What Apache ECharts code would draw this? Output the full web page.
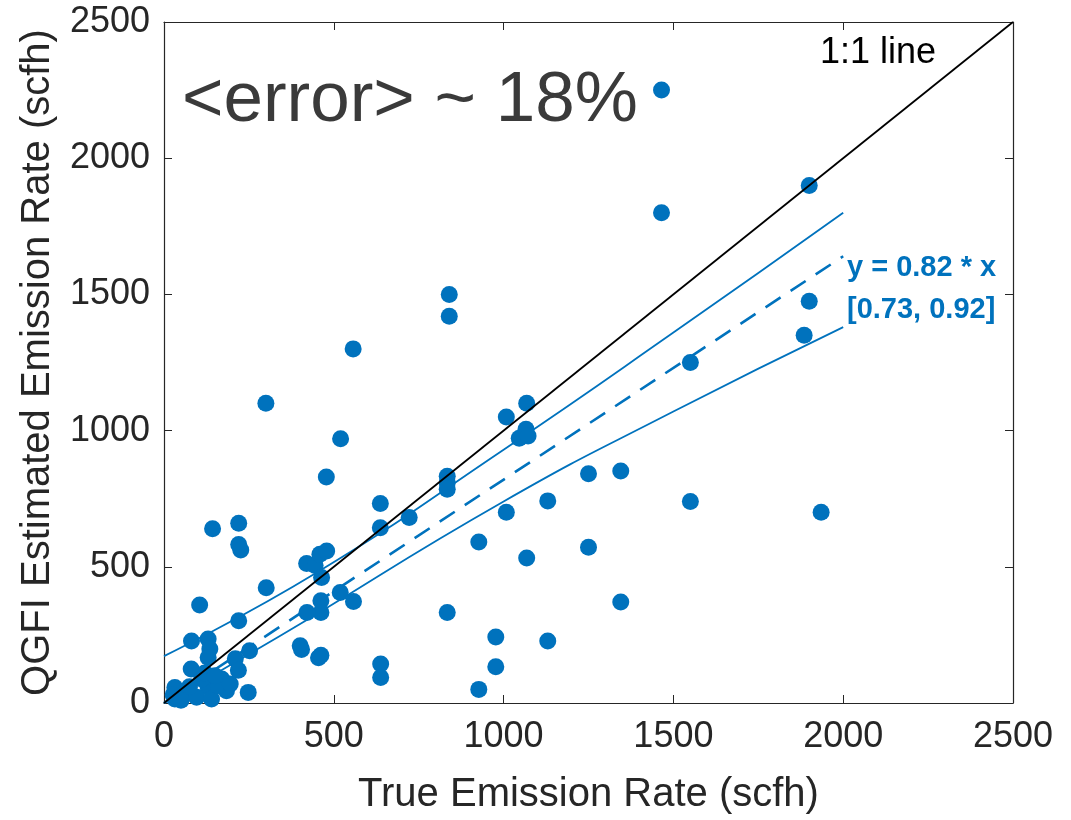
<!DOCTYPE html>
<html>
<head>
<meta charset="utf-8">
<script src="https://cdn.jsdelivr.net/npm/echarts@6/dist/echarts.min.js"></script>
<style>
html,body{margin:0;padding:0;background:#fff;}
#chart{width:1071px;height:820px;}
</style>
</head>
<body>
<div id="chart"></div>
<script>
// ---- data ----
const trueRate = [1465,1465,1900,1900,1885,1550,1550,1935,840,840,557,300,520,478,1008,1068,1066,1046,1072,834,834,834,637,637,722,1008,1130,1250,1345,927,1068,1250,1345,1130,977,977,927,834,638,638,420,445,459,479,464,519,558,462,462,421,401,405,455,462,143,220,220,226,301,105,220,81,130,135,130,252,210,219,80,170,184,248,130,111,32,32,62,96,140,160,27,75,120,150,195,50];
const estRate  = [2250,1800,1900,1475,1350,1250,740,700,1500,1420,1300,1100,970,830,1050,1100,1005,972,980,832,808,785,732,643,681,700,742,842,852,591,532,572,371,228,242,133,50,332,143,94,512,505,546,558,461,406,373,375,332,332,210,196,166,175,640,660,582,562,423,360,302,228,235,198,167,192,162,120,125,88,45,39,57,88,57,15,33,21,15,63,30,60,110,100,70,10];
const oneToOneLine = [[0,0],[2500,2500]];
const fitLine = [[0,0],[2000,1640]];
const upperBand = [[0,172],[450,479],[1000,930],[1500,1360],[2000,1800]];
const lowerBand = [[0,0],[340,245],[1000,740],[1500,1070],[2000,1380]];
const xTicks = [0,500,1000,1500,2000,2500];
const yTicks = [0,500,1000,1500,2000,2500];
const xTitle = 'True Emission Rate (scfh)';
const yTitle = 'QGFI Estimated Emission Rate (scfh)';
const errorText = '<error> ~ 18%';
const lineText = '1:1 line';
const fitText1 = 'y = 0.82 * x';
const fitText2 = '[0.73, 0.92]';

const points = trueRate.map((x,i)=>[x, estRate[i]]);
const FONT = '"Liberation Sans", Arial, sans-serif';
const AX = '#262626';
const BLUE = '#0072BD';

const chart = echarts.init(document.getElementById('chart'), null, {renderer:'canvas'});

function axisCommon(show){
  return {
    type:'value', min:xTicks[0], max:xTicks[xTicks.length-1], interval:500,
    axisLine:{show:true, onZero:false, lineStyle:{color:AX, width:1.2}},
    axisTick:{show:true, inside:true, length:8, lineStyle:{color:AX, width:1}},
    splitLine:{show:false},
    axisLabel:{show:show, color:AX, fontSize:36, fontFamily:FONT, formatter:(v)=>String(v)}
  };
}

const option = {
  animation:false,
  backgroundColor:'#fff',
  grid:{left:164, right:58, top:22, bottom:116, containLabel:false},
  xAxis:[
    Object.assign(axisCommon(true), {position:'bottom',
      axisLabel:{show:true, color:AX, fontSize:36, fontFamily:FONT, margin:16, formatter:(v)=>String(v)},
      name:xTitle, nameLocation:'middle', nameGap:72,
      nameTextStyle:{fontSize:40, color:AX, fontFamily:FONT}}),
    Object.assign(axisCommon(false), {position:'top'})
  ],
  yAxis:[
    Object.assign(axisCommon(true), {position:'left', min:yTicks[0], max:yTicks[yTicks.length-1],
      axisLabel:{show:true, color:AX, fontSize:36, fontFamily:FONT, margin:14, formatter:(v)=>String(v)},
      name:yTitle, nameLocation:'middle', nameGap:106,
      nameTextStyle:{fontSize:40, color:AX, fontFamily:FONT}}),
    Object.assign(axisCommon(false), {position:'right', min:yTicks[0], max:yTicks[yTicks.length-1]})
  ],
  series:[
    {type:'line', data:upperBand, symbol:'none', smooth:true, z:1,
      lineStyle:{color:BLUE, width:1.8}},
    {type:'line', data:lowerBand, symbol:'none', smooth:true, z:1,
      lineStyle:{color:BLUE, width:1.8}},
    {type:'line', data:fitLine, symbol:'none', z:1,
      lineStyle:{color:BLUE, width:2.6, type:[18,12]}},
    {type:'scatter', data:points, symbol:'circle', symbolSize:17, z:2,
      itemStyle:{color:BLUE, opacity:1}},
    {type:'line', data:oneToOneLine, symbol:'none', z:3,
      lineStyle:{color:'#000', width:1.8}}
  ],
  graphic:[
    {type:'text', left:182, top:66, z:10,
      style:{text:errorText, fill:'#3a3a3a', font:'71px ' + FONT}},
    {type:'text', left:820, top:35, z:10,
      style:{text:lineText, fill:'#000', font:'36px ' + FONT}},
    {type:'text', left:847, top:253, z:10,
      style:{text:fitText1, fill:BLUE, font:'bold 29px ' + FONT}},
    {type:'text', left:847, top:295, z:10,
      style:{text:fitText2, fill:BLUE, font:'bold 29px ' + FONT}}
  ]
};
chart.setOption(option);
</script>
</body>
</html>
